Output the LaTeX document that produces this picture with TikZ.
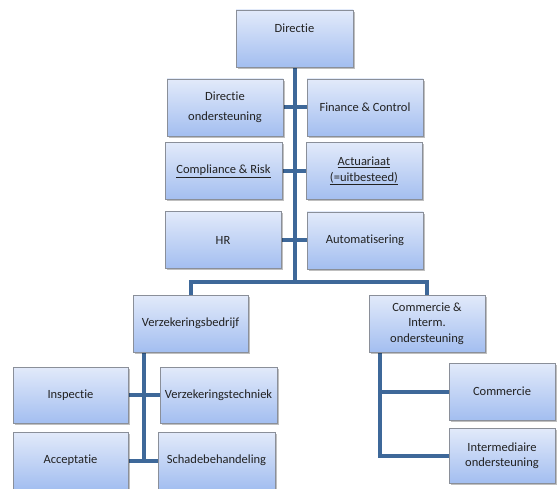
\documentclass[tikz,border=0pt]{standalone}
\usepackage{fontspec}
\setmainfont{Carlito}[Ligatures={NoCommon}]
\usetikzlibrary{shadows,calc,backgrounds}
\definecolor{boxtop}{HTML}{E2EAFA}
\definecolor{boxbot}{HTML}{A3BEF0}
\definecolor{boxline}{HTML}{8A8F99}
\definecolor{linkcol}{HTML}{3E6899}
\definecolor{txt}{HTML}{222222}
\tikzset{
  orgbox/.style={rectangle, draw=boxline, line width=0.8pt, top color=boxtop, bottom color=boxbot,
    minimum width=#1, minimum height=57pt, inner sep=0pt, align=center, text=txt,
    font=\fontsize{12.5}{15.5}\selectfont,
    drop shadow={shadow xshift=1.6pt, shadow yshift=-1.6pt, fill=black, opacity=0.25}},
  orgbox/.default=116pt,
  link/.style={draw=linkcol, line width=4pt, line join=miter}
}
\begin{document}
\begin{tikzpicture}[x=1pt,y=-1pt]
\useasboundingbox (0,0) rectangle (557,489);
\clip (0,0) rectangle (557,489);
% boxes
\node[orgbox=117pt, text height=21pt, text depth=32pt, inner ysep=2pt] (dir) at (294.5,38.5) {Directie};
\node[orgbox, font=\fontsize{12.5}{20}\selectfont] (dond) at (225,107.5) {Directie\\ondersteuning};
\node[orgbox] (fin) at (365,107.5) {Finance \& Control};
\node[orgbox=117pt] (comp) at (223.5,171) {\underline{Compliance \& Risk}};
\node[orgbox] (act) at (364,171) {\underline{Actuariaat}\\\underline{(=uitbesteed)}};
\node[orgbox] (hr) at (223,240) {HR};
\node[orgbox] (auto) at (365,240.5) {Automatisering};
\node[orgbox=115pt] (verz) at (190.5,323.5) {Verzekeringsbedrijf};
\node[orgbox] (comm) at (427,323.5) {Commercie \&\\Interm.\\ondersteuning};
\node[orgbox=115pt, minimum height=56pt] (insp) at (70.5,395) {Inspectie};
\node[orgbox=117pt, minimum height=56pt] (vtech) at (218.5,395) {Verzekeringstechniek};
\node[orgbox=115pt] (acc) at (70.5,460.5) {Acceptatie};
\node[orgbox=117pt] (schade) at (216.5,460.5) {Schadebehandeling};
\node[orgbox=106pt] (commc) at (502,391.5) {Commercie};
\node[orgbox=106pt, minimum height=55pt] (inter) at (502,455.5) {Intermediaire\\ondersteuning};
% hub coordinates
\coordinate (bus) at (dir.south |- 0,282);
\coordinate (vtop) at ($(verz.south west)+(11,0)$);
\coordinate (ctop) at ($(comm.south west)+(11,0)$);
% connectors
\begin{scope}[on background layer]
\draw[link] (dir.south) -- (bus);
\draw[link] (dond.east) -- (fin.west);
\draw[link] (comp.east) -- (act.west);
\draw[link] (hr.east) -- (hr.east -| auto.west);
\draw[link] (verz.north) |- (bus) -| (comm.north);
\draw[link] (vtop) -- (vtop |- acc.east);
\draw[link] (insp.east) -- (vtech.west);
\draw[link] (acc.east) -- (schade.west);
\draw[link] (ctop) |- (commc.west);
\draw[link] (ctop) |- (inter.west);
\end{scope}
\end{tikzpicture}
\end{document}
